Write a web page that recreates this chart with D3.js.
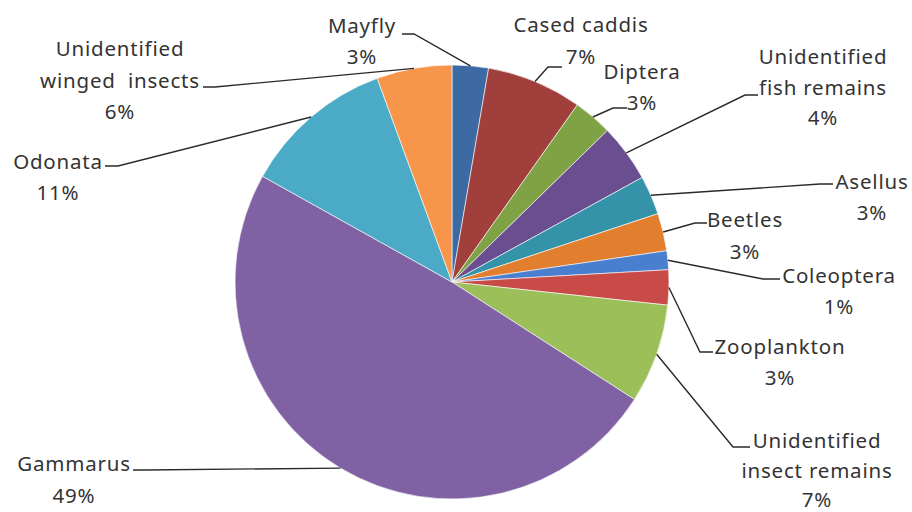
<!DOCTYPE html>
<html>
<head>
<meta charset="utf-8">
<script src="https://cdn.jsdelivr.net/npm/d3@7"></script>
<style>
  html, body { margin: 0; padding: 0; background: #fff; }
  svg text { font-family: "Noto Sans", "Open Sans", sans-serif; fill: #333; }
</style>
</head>
<body>
<svg id="chart" width="912" height="512"></svg>
<script>
// ---- data ----
const categories = [
  "Mayfly", "Cased caddis", "Diptera", "Unidentified fish remains",
  "Asellus", "Beetles", "Coleoptera", "Zooplankton",
  "Unidentified insect remains", "Gammarus", "Odonata", "Unidentified winged insects"
];
const values = [2.7, 7.1, 2.9, 4.3, 2.9, 2.8, 1.4, 2.6, 7.4, 49.0, 11.3, 5.6];
// label text lines (category name wrapped as in the reference)
const labelLines = [
  ["Mayfly"], ["Cased caddis"], ["Diptera"], ["Unidentified", "fish remains"],
  ["Asellus"], ["Beetles"], ["Coleoptera"], ["Zooplankton"],
  ["Unidentified", "insect remains"], ["Gammarus"], ["Odonata"], ["Unidentified", "winged  insects"]
];
const colors = [
  "#3d6aa3", "#a03f3c", "#7fa245", "#6a4e90",
  "#3493a9", "#e27f2f", "#4a7fcf", "#c84b48",
  "#9bc05a", "#8062a4", "#4babc7", "#f7954a"
];

// ---- layout (label placement) ----
const cx = 452, cy = 282, R = 217;
// [text centre x, first-line centre y, leader start x, leader start y, elbow x, line height]
const labelLayout = [
  [362, 26, 402, 34, 414, 31],
  [581, 25, 562, 67, 548, 32],
  [642, 72, 627, 108, 613, 31],
  [823, 57, 758, 95, 745, 30.5],
  [872, 182, 833, 184, 820, 31],
  [745, 220, 707, 223, 695, 32],
  [839, 276, 780, 279, 763, 31],
  [780, 347, 713, 352, 700, 31],
  [817, 441, 750, 447, 733, 29.5],
  [74, 464, 133, 470, 145, 32],
  [58, 162, 105, 166, 118, 31],
  [120, 49, 203, 87, 215, 31.5]
];

const svg = d3.select("#chart");
const g = svg.append("g").attr("transform", `translate(${cx},${cy})`);

const pie = d3.pie().sort(null).value(d => d.value);
const arcs = pie(categories.map((c, i) => ({ name: c, value: values[i], i })));
const arc = d3.arc().innerRadius(0).outerRadius(R);

g.selectAll("path.slice")
  .data(arcs)
  .join("path")
  .attr("class", "slice")
  .attr("d", arc)
  .attr("fill", d => colors[d.data.i])
  .attr("stroke", "#ffffff")
  .attr("stroke-width", 0.6);

// leader lines
const rimPoint = d => {
  const a = (d.startAngle + d.endAngle) / 2;
  return [cx + R * Math.sin(a), cy - R * Math.cos(a)];
};
svg.selectAll("path.leader")
  .data(arcs)
  .join("path")
  .attr("class", "leader")
  .attr("fill", "none")
  .attr("stroke", "#2a2a2a")
  .attr("stroke-width", 1.4)
  .attr("d", d => {
    const L = labelLayout[d.data.i];
    const p = rimPoint(d);
    return d3.line()([[L[2], L[3]], [L[4], L[3]], p]);
  });

// labels
const total = d3.sum(values);
arcs.forEach(d => {
  const L = labelLayout[d.data.i];
  const lines = labelLines[d.data.i].concat([Math.round(d.data.value / total * 100) + "%"]);
  const t = svg.append("text")
    .attr("text-anchor", "middle")
    .attr("font-size", 20.5)
    .attr("letter-spacing", 0.8);
  lines.forEach((ln, k) => {
    t.append("tspan")
      .attr("x", L[0])
      .attr("y", L[1] + k * L[5])
      .attr("dy", "0.36em")
      .style("white-space", "pre")
      .text(ln);
  });
});
</script>
</body>
</html>
